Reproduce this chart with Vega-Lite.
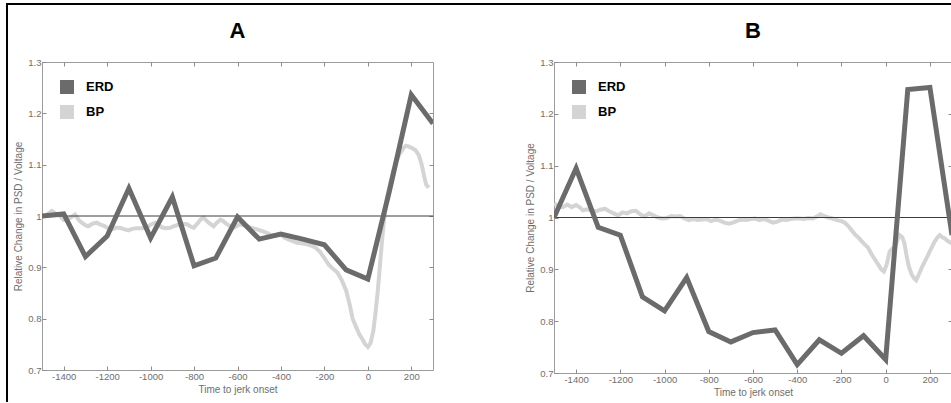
{
  "$schema": "https://vega.github.io/schema/vega-lite/v6.json",
  "background": "white",
  "padding": {"left": 6, "top": 3, "right": 0, "bottom": 0},
  "datasets": {
    "panelA": [
      {"series": "ERD", "t": -1500, "v": 1.0},
      {"series": "ERD", "t": -1400, "v": 1.004},
      {"series": "ERD", "t": -1300, "v": 0.921},
      {"series": "ERD", "t": -1200, "v": 0.961},
      {"series": "ERD", "t": -1100, "v": 1.054},
      {"series": "ERD", "t": -1000, "v": 0.957},
      {"series": "ERD", "t": -900, "v": 1.037},
      {"series": "ERD", "t": -800, "v": 0.903},
      {"series": "ERD", "t": -700, "v": 0.918},
      {"series": "ERD", "t": -600, "v": 0.998},
      {"series": "ERD", "t": -500, "v": 0.955},
      {"series": "ERD", "t": -400, "v": 0.965},
      {"series": "ERD", "t": -300, "v": 0.955},
      {"series": "ERD", "t": -200, "v": 0.944},
      {"series": "ERD", "t": -100, "v": 0.895},
      {"series": "ERD", "t": 0, "v": 0.877},
      {"series": "ERD", "t": 100, "v": 1.05},
      {"series": "ERD", "t": 200, "v": 1.236},
      {"series": "ERD", "t": 300, "v": 1.18},
      {"series": "BP", "t": -1500, "v": 0.998},
      {"series": "BP", "t": -1480, "v": 1.002},
      {"series": "BP", "t": -1455, "v": 1.01},
      {"series": "BP", "t": -1435, "v": 1.004},
      {"series": "BP", "t": -1417, "v": 1.0},
      {"series": "BP", "t": -1400, "v": 0.992},
      {"series": "BP", "t": -1386, "v": 0.993},
      {"series": "BP", "t": -1365, "v": 0.998},
      {"series": "BP", "t": -1348, "v": 1.003},
      {"series": "BP", "t": -1330, "v": 0.992},
      {"series": "BP", "t": -1317, "v": 0.987},
      {"series": "BP", "t": -1300, "v": 0.982},
      {"series": "BP", "t": -1287, "v": 0.98},
      {"series": "BP", "t": -1268, "v": 0.985},
      {"series": "BP", "t": -1248, "v": 0.987},
      {"series": "BP", "t": -1230, "v": 0.983},
      {"series": "BP", "t": -1210, "v": 0.98},
      {"series": "BP", "t": -1195, "v": 0.976},
      {"series": "BP", "t": -1179, "v": 0.974},
      {"series": "BP", "t": -1160, "v": 0.977},
      {"series": "BP", "t": -1141, "v": 0.977},
      {"series": "BP", "t": -1120, "v": 0.974},
      {"series": "BP", "t": -1102, "v": 0.972},
      {"series": "BP", "t": -1085, "v": 0.975},
      {"series": "BP", "t": -1064, "v": 0.976},
      {"series": "BP", "t": -1040, "v": 0.976},
      {"series": "BP", "t": -1018, "v": 0.977},
      {"series": "BP", "t": -1000, "v": 0.983},
      {"series": "BP", "t": -979, "v": 0.987},
      {"series": "BP", "t": -962, "v": 0.982},
      {"series": "BP", "t": -948, "v": 0.978},
      {"series": "BP", "t": -930, "v": 0.976},
      {"series": "BP", "t": -910, "v": 0.977},
      {"series": "BP", "t": -895, "v": 0.98},
      {"series": "BP", "t": -879, "v": 0.982},
      {"series": "BP", "t": -855, "v": 0.985},
      {"series": "BP", "t": -833, "v": 0.984},
      {"series": "BP", "t": -818, "v": 0.98},
      {"series": "BP", "t": -802, "v": 0.977},
      {"series": "BP", "t": -785, "v": 0.985},
      {"series": "BP", "t": -770, "v": 0.993},
      {"series": "BP", "t": -756, "v": 0.997},
      {"series": "BP", "t": -745, "v": 0.992},
      {"series": "BP", "t": -733, "v": 0.987},
      {"series": "BP", "t": -720, "v": 0.983},
      {"series": "BP", "t": -710, "v": 0.98},
      {"series": "BP", "t": -695, "v": 0.987},
      {"series": "BP", "t": -679, "v": 0.993},
      {"series": "BP", "t": -665, "v": 0.99},
      {"series": "BP", "t": -649, "v": 0.984},
      {"series": "BP", "t": -632, "v": 0.98},
      {"series": "BP", "t": -618, "v": 0.977},
      {"series": "BP", "t": -600, "v": 0.981},
      {"series": "BP", "t": -587, "v": 0.984},
      {"series": "BP", "t": -570, "v": 0.982},
      {"series": "BP", "t": -556, "v": 0.98},
      {"series": "BP", "t": -535, "v": 0.977},
      {"series": "BP", "t": -510, "v": 0.974},
      {"series": "BP", "t": -490, "v": 0.971},
      {"series": "BP", "t": -464, "v": 0.967},
      {"series": "BP", "t": -448, "v": 0.963},
      {"series": "BP", "t": -433, "v": 0.961},
      {"series": "BP", "t": -418, "v": 0.963},
      {"series": "BP", "t": -403, "v": 0.964},
      {"series": "BP", "t": -385, "v": 0.958},
      {"series": "BP", "t": -364, "v": 0.954},
      {"series": "BP", "t": -345, "v": 0.951},
      {"series": "BP", "t": -326, "v": 0.948},
      {"series": "BP", "t": -305, "v": 0.947},
      {"series": "BP", "t": -280, "v": 0.945},
      {"series": "BP", "t": -258, "v": 0.942},
      {"series": "BP", "t": -240, "v": 0.938},
      {"series": "BP", "t": -220, "v": 0.93},
      {"series": "BP", "t": -200, "v": 0.918},
      {"series": "BP", "t": -180, "v": 0.905},
      {"series": "BP", "t": -160, "v": 0.897},
      {"series": "BP", "t": -140, "v": 0.89},
      {"series": "BP", "t": -120, "v": 0.875},
      {"series": "BP", "t": -100, "v": 0.855},
      {"series": "BP", "t": -85, "v": 0.83},
      {"series": "BP", "t": -70, "v": 0.8},
      {"series": "BP", "t": -55, "v": 0.785},
      {"series": "BP", "t": -40, "v": 0.77},
      {"series": "BP", "t": -25, "v": 0.76},
      {"series": "BP", "t": -12, "v": 0.75},
      {"series": "BP", "t": 0, "v": 0.745},
      {"series": "BP", "t": 12, "v": 0.752},
      {"series": "BP", "t": 25, "v": 0.775},
      {"series": "BP", "t": 35, "v": 0.81},
      {"series": "BP", "t": 45, "v": 0.85},
      {"series": "BP", "t": 55, "v": 0.9},
      {"series": "BP", "t": 65, "v": 0.95},
      {"series": "BP", "t": 75, "v": 0.995},
      {"series": "BP", "t": 88, "v": 1.035},
      {"series": "BP", "t": 100, "v": 1.06},
      {"series": "BP", "t": 115, "v": 1.085},
      {"series": "BP", "t": 130, "v": 1.105},
      {"series": "BP", "t": 145, "v": 1.12},
      {"series": "BP", "t": 160, "v": 1.13},
      {"series": "BP", "t": 175, "v": 1.137},
      {"series": "BP", "t": 190, "v": 1.135},
      {"series": "BP", "t": 205, "v": 1.132},
      {"series": "BP", "t": 220, "v": 1.128},
      {"series": "BP", "t": 235, "v": 1.118},
      {"series": "BP", "t": 248, "v": 1.1},
      {"series": "BP", "t": 258, "v": 1.08},
      {"series": "BP", "t": 268, "v": 1.062},
      {"series": "BP", "t": 280, "v": 1.055}
    ],
    "panelB": [
      {"series": "ERD", "t": -1500, "v": 1.0},
      {"series": "ERD", "t": -1400, "v": 1.095},
      {"series": "ERD", "t": -1300, "v": 0.981},
      {"series": "ERD", "t": -1200, "v": 0.966},
      {"series": "ERD", "t": -1100, "v": 0.847},
      {"series": "ERD", "t": -1000, "v": 0.82},
      {"series": "ERD", "t": -900, "v": 0.884},
      {"series": "ERD", "t": -800, "v": 0.78},
      {"series": "ERD", "t": -700, "v": 0.76},
      {"series": "ERD", "t": -600, "v": 0.778},
      {"series": "ERD", "t": -500, "v": 0.783},
      {"series": "ERD", "t": -400, "v": 0.716},
      {"series": "ERD", "t": -300, "v": 0.764},
      {"series": "ERD", "t": -200, "v": 0.738},
      {"series": "ERD", "t": -100, "v": 0.772},
      {"series": "ERD", "t": 0, "v": 0.726},
      {"series": "ERD", "t": 100, "v": 1.247},
      {"series": "ERD", "t": 200, "v": 1.251},
      {"series": "ERD", "t": 300, "v": 0.966},
      {"series": "BP", "t": -1500, "v": 1.027},
      {"series": "BP", "t": -1480, "v": 1.022},
      {"series": "BP", "t": -1460, "v": 1.02},
      {"series": "BP", "t": -1440, "v": 1.025},
      {"series": "BP", "t": -1420, "v": 1.02},
      {"series": "BP", "t": -1400, "v": 1.024},
      {"series": "BP", "t": -1385, "v": 1.02},
      {"series": "BP", "t": -1370, "v": 1.014},
      {"series": "BP", "t": -1350, "v": 1.016},
      {"series": "BP", "t": -1330, "v": 1.013},
      {"series": "BP", "t": -1310, "v": 1.012},
      {"series": "BP", "t": -1290, "v": 1.015},
      {"series": "BP", "t": -1270, "v": 1.017},
      {"series": "BP", "t": -1250, "v": 1.012},
      {"series": "BP", "t": -1230, "v": 1.008},
      {"series": "BP", "t": -1210, "v": 1.004},
      {"series": "BP", "t": -1190, "v": 1.01},
      {"series": "BP", "t": -1170, "v": 1.008},
      {"series": "BP", "t": -1150, "v": 1.012},
      {"series": "BP", "t": -1130, "v": 1.013},
      {"series": "BP", "t": -1110, "v": 1.006},
      {"series": "BP", "t": -1090, "v": 1.002},
      {"series": "BP", "t": -1070, "v": 1.008},
      {"series": "BP", "t": -1050, "v": 1.004},
      {"series": "BP", "t": -1030, "v": 1.0},
      {"series": "BP", "t": -1010, "v": 0.998},
      {"series": "BP", "t": -990, "v": 0.999},
      {"series": "BP", "t": -970, "v": 1.003},
      {"series": "BP", "t": -950, "v": 1.002},
      {"series": "BP", "t": -930, "v": 1.003},
      {"series": "BP", "t": -910, "v": 0.998},
      {"series": "BP", "t": -890, "v": 0.995},
      {"series": "BP", "t": -870, "v": 0.997},
      {"series": "BP", "t": -850, "v": 0.995},
      {"series": "BP", "t": -830, "v": 0.996},
      {"series": "BP", "t": -810, "v": 0.997},
      {"series": "BP", "t": -790, "v": 0.993},
      {"series": "BP", "t": -770, "v": 0.996},
      {"series": "BP", "t": -750, "v": 0.994},
      {"series": "BP", "t": -730, "v": 0.99},
      {"series": "BP", "t": -710, "v": 0.988},
      {"series": "BP", "t": -690, "v": 0.99},
      {"series": "BP", "t": -670, "v": 0.994},
      {"series": "BP", "t": -650, "v": 0.996},
      {"series": "BP", "t": -630, "v": 0.995},
      {"series": "BP", "t": -610, "v": 0.997},
      {"series": "BP", "t": -590, "v": 0.998},
      {"series": "BP", "t": -570, "v": 0.995},
      {"series": "BP", "t": -550, "v": 0.997},
      {"series": "BP", "t": -530, "v": 0.994},
      {"series": "BP", "t": -510, "v": 0.99},
      {"series": "BP", "t": -490, "v": 0.992},
      {"series": "BP", "t": -470, "v": 0.996},
      {"series": "BP", "t": -450, "v": 0.995},
      {"series": "BP", "t": -430, "v": 0.997},
      {"series": "BP", "t": -410, "v": 0.998},
      {"series": "BP", "t": -390, "v": 0.998},
      {"series": "BP", "t": -370, "v": 0.997},
      {"series": "BP", "t": -350, "v": 0.999},
      {"series": "BP", "t": -330, "v": 0.998},
      {"series": "BP", "t": -310, "v": 1.002},
      {"series": "BP", "t": -295, "v": 1.006},
      {"series": "BP", "t": -280, "v": 1.003},
      {"series": "BP", "t": -260, "v": 1.0},
      {"series": "BP", "t": -240, "v": 0.998},
      {"series": "BP", "t": -220, "v": 0.995},
      {"series": "BP", "t": -200, "v": 0.993},
      {"series": "BP", "t": -185, "v": 0.99},
      {"series": "BP", "t": -170, "v": 0.984},
      {"series": "BP", "t": -155, "v": 0.976},
      {"series": "BP", "t": -140, "v": 0.968},
      {"series": "BP", "t": -125, "v": 0.962},
      {"series": "BP", "t": -110, "v": 0.955},
      {"series": "BP", "t": -95, "v": 0.948},
      {"series": "BP", "t": -80, "v": 0.942},
      {"series": "BP", "t": -65, "v": 0.93},
      {"series": "BP", "t": -50, "v": 0.92},
      {"series": "BP", "t": -35, "v": 0.91},
      {"series": "BP", "t": -20, "v": 0.9},
      {"series": "BP", "t": -8, "v": 0.896},
      {"series": "BP", "t": 5, "v": 0.91},
      {"series": "BP", "t": 18, "v": 0.934},
      {"series": "BP", "t": 30, "v": 0.94},
      {"series": "BP", "t": 41, "v": 0.94},
      {"series": "BP", "t": 52, "v": 0.955},
      {"series": "BP", "t": 63, "v": 0.966},
      {"series": "BP", "t": 75, "v": 0.962},
      {"series": "BP", "t": 85, "v": 0.95},
      {"series": "BP", "t": 95, "v": 0.925},
      {"series": "BP", "t": 105, "v": 0.905},
      {"series": "BP", "t": 118, "v": 0.89},
      {"series": "BP", "t": 130, "v": 0.882},
      {"series": "BP", "t": 138, "v": 0.879},
      {"series": "BP", "t": 150, "v": 0.89},
      {"series": "BP", "t": 165, "v": 0.905},
      {"series": "BP", "t": 183, "v": 0.92},
      {"series": "BP", "t": 200, "v": 0.935},
      {"series": "BP", "t": 221, "v": 0.953},
      {"series": "BP", "t": 235, "v": 0.962},
      {"series": "BP", "t": 244, "v": 0.966},
      {"series": "BP", "t": 256, "v": 0.962},
      {"series": "BP", "t": 266, "v": 0.96},
      {"series": "BP", "t": 280, "v": 0.955},
      {"series": "BP", "t": 300, "v": 0.95}
    ]
  },
  "hconcat": [
    {
      "width": 0.01,
      "height": 397,
      "data": {"values": []},
      "mark": "point",
      "view": {"stroke": "black", "strokeWidth": 2}
    },
    {
      "vconcat": [
        {
          "width": 942,
          "height": 0.01,
          "data": {"values": []},
          "mark": "point",
          "view": {"stroke": "black", "strokeWidth": 2}
        },
        {
          "hconcat": [
            {
              "width": 0.01,
              "height": 1,
              "data": {"values": []},
              "mark": "point",
              "view": {"stroke": null}
            },
            {
              "width": 391,
              "height": 308,
              "title": {"text": "A"},
              "data": {"name": "panelA"},
              "layer": [
                {
                  "transform": [{"filter": "datum.series === 'BP'"}],
                  "mark": {"type": "line", "strokeWidth": 4, "clip": true},
                  "encoding": {
                    "x": {"field": "t", "type": "quantitative", "scale": {"domain": [-1500, 300], "nice": false},
                      "axis": {"orient": "bottom", "values": [-1400, -1200, -1000, -800, -600, -400, -200, 0, 200],
                        "labelExpr": "datum.value < 0 ? '-' + abs(datum.value) : '' + datum.value",
                        "title": "Time to jerk onset"}},
                    "y": {"field": "v", "type": "quantitative", "scale": {"domain": [0.7, 1.3], "nice": false, "zero": false},
                      "axis": {"orient": "left", "values": [0.7, 0.8, 0.9, 1, 1.1, 1.2, 1.3], "format": "~g",
                        "title": "Relative Change in PSD / Voltage"}},
                    "color": {"field": "series", "type": "nominal",
                      "scale": {"domain": ["ERD", "BP"], "range": ["#6b6b6b", "#d4d4d4"]},
                      "legend": {"title": null}}
                  }
                },
                {
                  "data": {"values": [{}]},
                  "mark": {"type": "rule", "color": "#3c3c3c", "strokeWidth": 1},
                  "encoding": {"y": {"datum": 1, "type": "quantitative", "axis": null}}
                },
                {
                  "transform": [{"filter": "datum.series === 'ERD'"}],
                  "mark": {"type": "line", "strokeWidth": 5, "clip": true},
                  "encoding": {
                    "x": {"field": "t", "type": "quantitative", "scale": {"domain": [-1500, 300], "nice": false},
                      "axis": {"orient": "top", "values": [-1400, -1200, -1000, -800, -600, -400, -200, 0, 200], "labels": false, "title": null}},
                    "y": {"field": "v", "type": "quantitative", "scale": {"domain": [0.7, 1.3], "nice": false, "zero": false},
                      "axis": {"orient": "right", "values": [0.8, 0.9, 1, 1.1, 1.2], "labels": false, "title": null}},
                    "color": {"field": "series", "type": "nominal",
                      "scale": {"domain": ["ERD", "BP"], "range": ["#6b6b6b", "#d4d4d4"]},
                      "legend": {"title": null}}
                  }
                }
              ],
              "resolve": {"axis": {"x": "independent", "y": "independent"}}
            },
            {
              "width": 55,
              "height": 1,
              "data": {"values": []},
              "mark": "point",
              "view": {"stroke": null}
            },
            {
              "width": 398,
              "height": 311,
              "title": {"text": "B"},
              "data": {"name": "panelB"},
              "layer": [
                {
                  "transform": [{"filter": "datum.series === 'BP'"}],
                  "mark": {"type": "line", "strokeWidth": 4, "clip": true},
                  "encoding": {
                    "x": {"field": "t", "type": "quantitative", "scale": {"domain": [-1500, 300], "nice": false},
                      "axis": {"orient": "bottom", "values": [-1400, -1200, -1000, -800, -600, -400, -200, 0, 200],
                        "labelExpr": "datum.value < 0 ? '-' + abs(datum.value) : '' + datum.value",
                        "title": "Time to jerk onset"}},
                    "y": {"field": "v", "type": "quantitative", "scale": {"domain": [0.7, 1.3], "nice": false, "zero": false},
                      "axis": {"orient": "left", "values": [0.7, 0.8, 0.9, 1, 1.1, 1.2, 1.3], "format": "~g",
                        "title": "Relative Change in PSD / Voltage"}},
                    "color": {"field": "series", "type": "nominal",
                      "scale": {"domain": ["ERD", "BP"], "range": ["#6b6b6b", "#d4d4d4"]},
                      "legend": {"title": null}}
                  }
                },
                {
                  "data": {"values": [{}]},
                  "mark": {"type": "rule", "color": "#3c3c3c", "strokeWidth": 1},
                  "encoding": {"y": {"datum": 1, "type": "quantitative", "axis": null}}
                },
                {
                  "transform": [{"filter": "datum.series === 'ERD'"}],
                  "mark": {"type": "line", "strokeWidth": 5, "clip": true},
                  "encoding": {
                    "x": {"field": "t", "type": "quantitative", "scale": {"domain": [-1500, 300], "nice": false},
                      "axis": {"orient": "top", "values": [-1400, -1200, -1000, -800, -600, -400, -200, 0, 200], "labels": false, "title": null}},
                    "y": {"field": "v", "type": "quantitative", "scale": {"domain": [0.7, 1.3], "nice": false, "zero": false},
                      "axis": {"orient": "right", "values": [0.8, 0.9, 1, 1.1, 1.2], "labels": false, "title": null}},
                    "color": {"field": "series", "type": "nominal",
                      "scale": {"domain": ["ERD", "BP"], "range": ["#6b6b6b", "#d4d4d4"]},
                      "legend": {"title": null}}
                  }
                }
              ],
              "resolve": {"axis": {"x": "independent", "y": "independent"}}
            }
          ],
          "spacing": 33,
          "bounds": "flush",
          "resolve": {"scale": {"color": "independent"}, "legend": {"color": "independent"}}
        }
      ],
      "spacing": 57,
      "bounds": "flush"
    }
  ],
  "spacing": 0,
  "bounds": "flush",
  "config": {
    "font": "Liberation Sans",
    "view": {"stroke": "#9c9c9c", "strokeWidth": 1},
    "axis": {
      "grid": false,
      "domain": false,
      "tickColor": "#8c8c8c",
      "tickSize": -4,
      "tickWidth": 1,
      "labelFontSize": 9.5,
      "labelColor": "#6e6e6e",
      "labelPadding": 5,
      "labelFlush": false,
      "labelOverlap": false,
      "titleFontSize": 10,
      "titleFontWeight": "normal",
      "titleColor": "#6e6e6e",
      "titlePadding": 4
    },
    "legend": {
      "orient": "top-left",
      "offset": 18,
      "padding": 0,
      "symbolType": "square",
      "symbolSize": 49,
      "symbolStrokeWidth": 7,
      "symbolOpacity": 1,
      "labelFontSize": 13,
      "labelFontWeight": "bold",
      "labelColor": "black",
      "labelOffset": 12,
      "rowPadding": -14
    },
    "title": {
      "fontSize": 22,
      "fontWeight": "bold",
      "color": "black",
      "anchor": "middle",
      "frame": "group",
      "offset": 14
    }
  }
}
